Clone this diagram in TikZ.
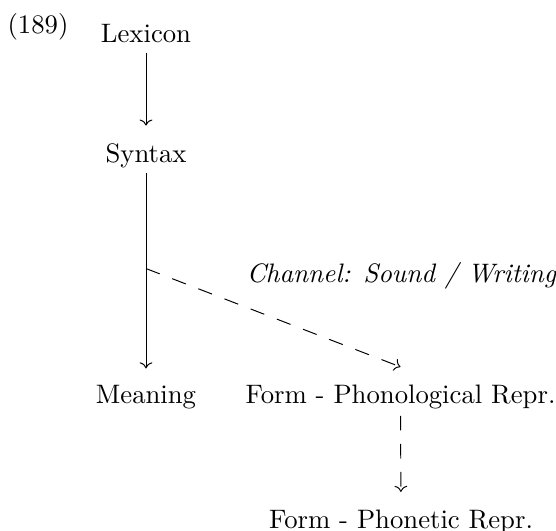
\documentclass[tikz,border=0pt]{standalone}
\usetikzlibrary{arrows.meta,cd}
\begin{document}
\begin{tikzpicture}[x=0.41pt,y=-0.41pt,
  font=\fontsize{10.95}{13.6}\selectfont,
  lbl/.style={inner sep=0pt,anchor=base},
  arr/.style={-{tikzcd to},line width=0.4pt},
  dsh/.style={arr,dash pattern=on 6pt off 5.5pt}]
\useasboundingbox (0,0) rectangle (556,530);
\node[lbl] (num) at (38,34) {(189)};
\node[lbl] (lex) at (146,42) {Lexicon};
\node[lbl] (syn) at (146,162) {Syntax};
\node[lbl] (mean) at (146,403) {Meaning};
\node[lbl] (phon) at (400.5,403) {Form - Phonological Repr.};
\node[lbl] (phonet) at (401,528) {Form - Phonetic Repr.};
\node[lbl] (chan) at (401.5,282) {\itshape Channel: Sound / Writing};
\draw[arr,shorten <=4pt,shorten >=7pt] (lex.south) -- (syn.north);
\draw[arr,shorten <=2pt,shorten >=6.5pt] (syn.south) -- (mean.north)
  coordinate[pos=0.465] (split);
\draw[dsh] (split) -- ([yshift=7pt]phon.north);
\draw[dsh,shorten <=2.8pt,shorten >=7pt] (phon.south) -- (phonet.north);
\end{tikzpicture}
\end{document}
